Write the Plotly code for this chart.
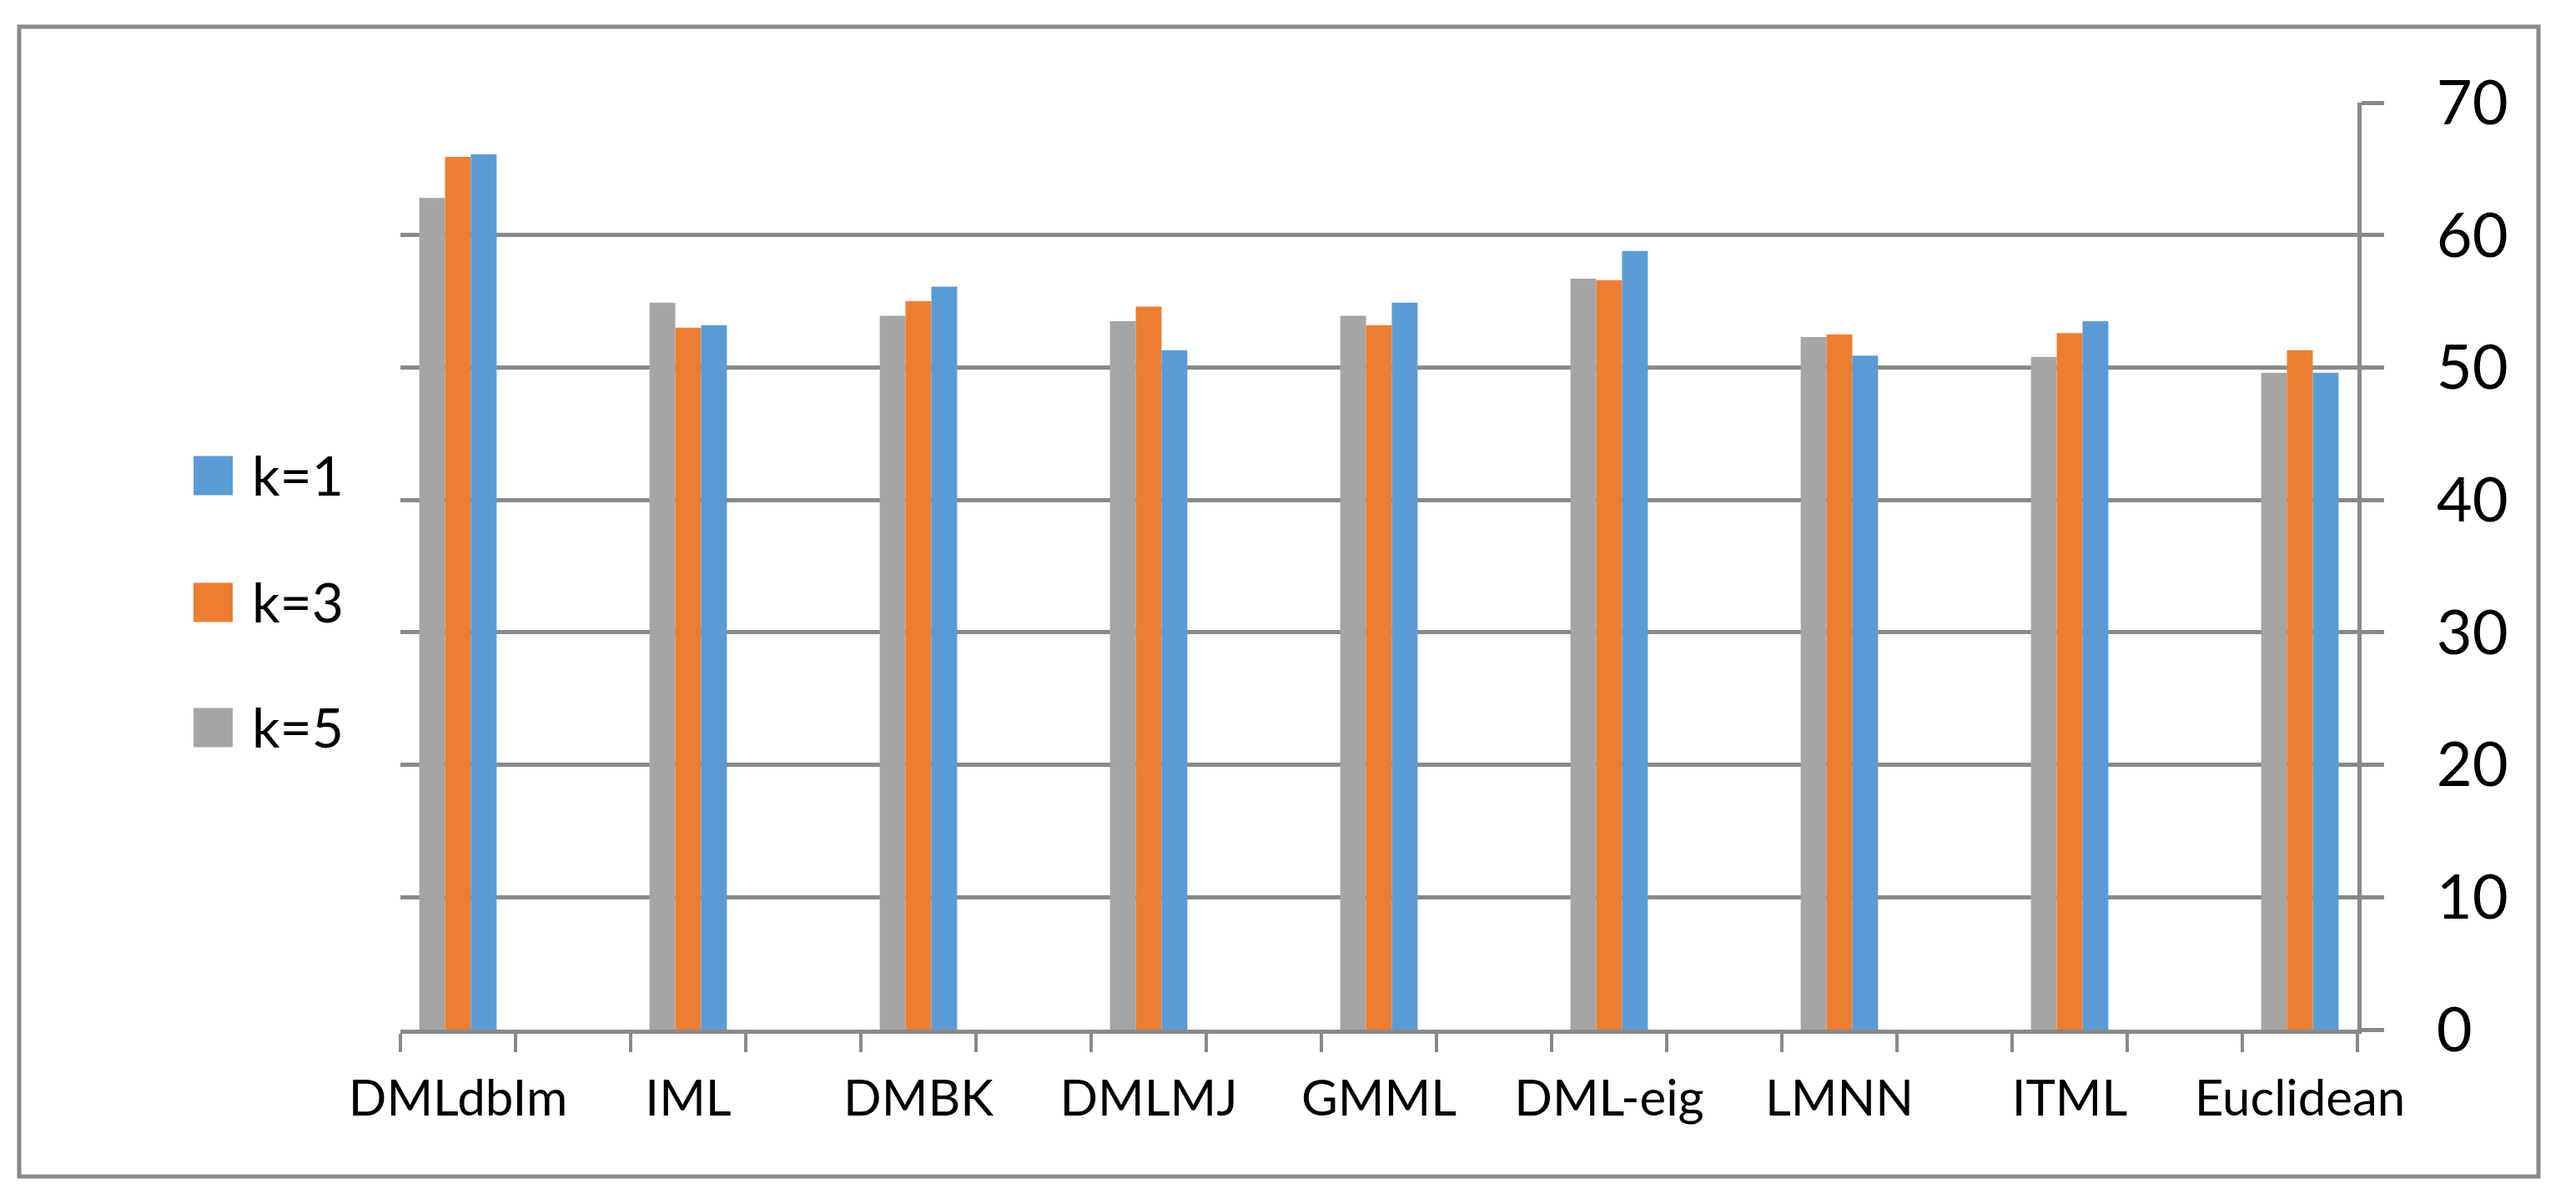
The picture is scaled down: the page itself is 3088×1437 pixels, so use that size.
import plotly.graph_objects as go

# ---- data ----
categories = ["DMLdbIm", "IML", "DMBK", "DMLMJ", "GMML", "DML-eig", "LMNN", "ITML", "Euclidean"]
k1 = [66.1, 53.2, 56.1, 51.3, 54.9, 58.8, 50.9, 53.5, 49.6]
k3 = [65.9, 53.0, 55.0, 54.6, 53.2, 56.6, 52.5, 52.6, 51.3]
k5 = [62.8, 54.9, 53.9, 53.5, 53.9, 56.7, 52.3, 50.8, 49.6]
series_names = ["k=1", "k=3", "k=5"]
y_ticks = [0, 10, 20, 30, 40, 50, 60, 70]

# ---- styling ----
OFF = 8  # page body margin
W, H = 3088 - OFF, 1437 - OFF
L, R, T, B = 480 - OFF, 262, 123 - OFF, 203
GRAY = "#898989"
C_K1, C_K3, C_K5 = "#5B9BD5", "#ED7D31", "#A5A5A5"
FONT = "Lato"

# category axis with blank spacer slots between the labelled methods
axis_cats = []
for i, c in enumerate(categories):
    axis_cats.append(c)
    if i < len(categories) - 1:
        axis_cats.append(" " * (i + 1))

bw = 0.224
fig = go.Figure()
for name, vals, col, off in [
    (series_names[2], k5, C_K5, -1.5 * bw),
    (series_names[1], k3, C_K3, -0.5 * bw),
    (series_names[0], k1, C_K1, 0.5 * bw),
]:
    fig.add_trace(go.Bar(x=categories, y=vals, name=name, marker=dict(color=col, line=dict(width=0)),
                         width=bw, offset=off, showlegend=False))

pw = W - L - R
ph = H - T - B

def px_x(x):  # screen px -> paper coords
    return (x - OFF - L) / pw

def px_y(y):
    return (H - B - (y - OFF)) / ph

shapes = [
    dict(type="rect", xref="paper", yref="paper",
         x0=px_x(23), x1=px_x(3043), y0=px_y(1410), y1=px_y(32),
         line=dict(color=GRAY, width=5), fillcolor="rgba(0,0,0,0)", layer="below"),
]
annotations = []
legend_items = [(series_names[0], C_K1, 570), (series_names[1], C_K3, 722), (series_names[2], C_K5, 872)]
for name, col, cy in legend_items:
    shapes.append(dict(type="rect", xref="paper", yref="paper",
                       x0=px_x(232), x1=px_x(279), y0=px_y(cy + 23.5), y1=px_y(cy - 23.5),
                       fillcolor=col, line=dict(width=0)))
    annotations.append(dict(xref="paper", yref="paper", x=px_x(300), y=px_y(cy - 2),
                            xanchor="left", yanchor="middle", showarrow=False, text=name,
                            font=dict(family=FONT, size=66, color="black")))

fig.update_layout(
    width=W, height=H,
    margin=dict(l=L, r=R, t=T, b=B, pad=0, autoexpand=False),
    paper_bgcolor="white", plot_bgcolor="white",
    barmode="overlay",
    showlegend=False,
    shapes=shapes,
    annotations=annotations,
    font=dict(family=FONT, color="black"),
    xaxis=dict(
        type="category", categoryorder="array", categoryarray=axis_cats,
        range=[-0.5, len(axis_cats) - 0.5], automargin=False,
        tickson="boundaries", ticks="outside", ticklen=22, tickwidth=4, tickcolor=GRAY,
        showline=True, linecolor=GRAY, linewidth=5, showgrid=False,
        tickangle=0,
        tickfont=dict(family=FONT, size=60, color="black"),
        ticklabelstandoff=26,
    ),
    yaxis=dict(
        side="right", range=[0, 70], tickvals=y_ticks, automargin=False,
        showgrid=True, gridcolor=GRAY, gridwidth=5,
        showline=True, linecolor=GRAY, linewidth=5, zeroline=False,
        ticks="outside", ticklen=27, tickwidth=5, tickcolor=GRAY,
        tickfont=dict(family=FONT, size=74, color="black"),
        ticklabelstandoff=48,
    ),
)

fig.write_html("out.html")
